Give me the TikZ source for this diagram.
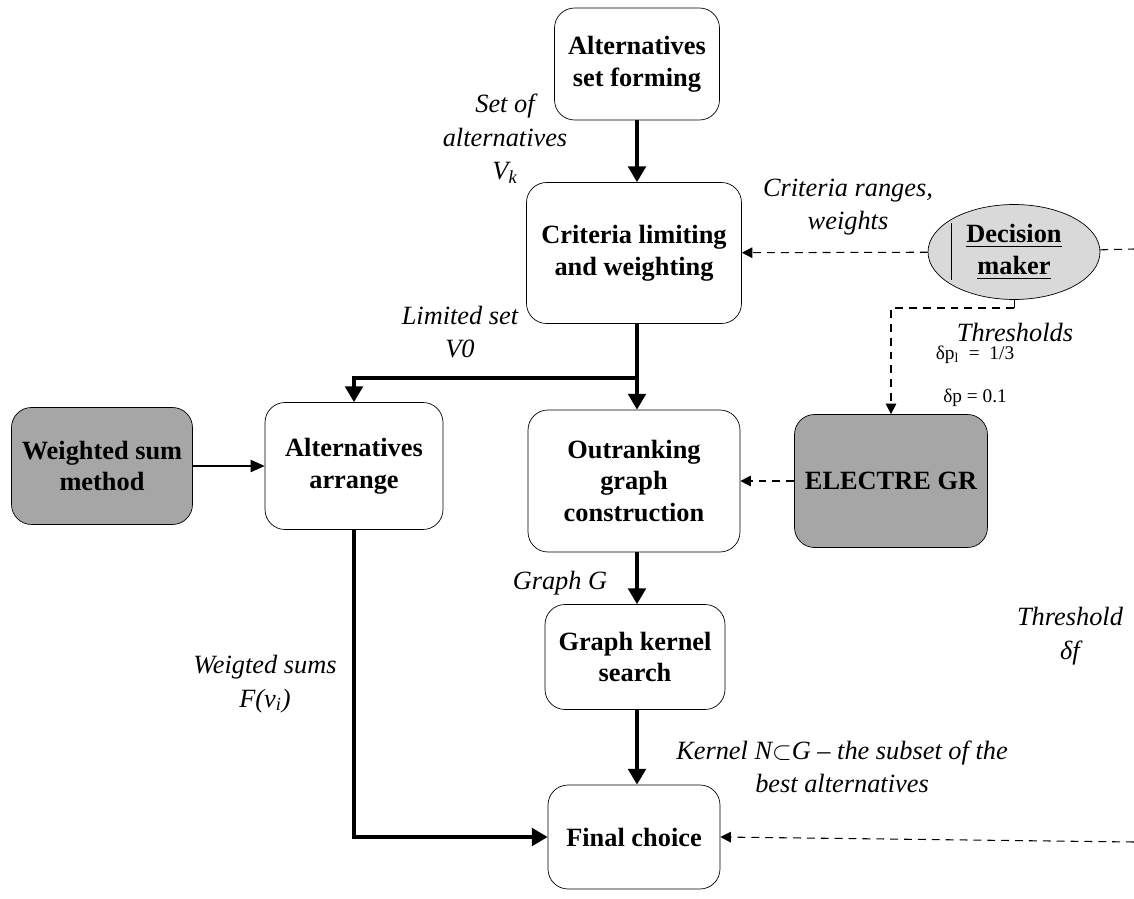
\documentclass[tikz,border=0pt]{standalone}
\usepackage{fontspec}
\setmainfont{Liberation Serif}
\usepackage{amssymb}
\usepackage{tikz}
\usetikzlibrary{arrows.meta,shapes.geometric}
\definecolor{boxgray}{HTML}{A6A6A6}
\definecolor{dmgray}{HTML}{D9D9D9}

\begin{document}
\begin{tikzpicture}[x=0.02cm,y=-0.02cm,
  box/.style={draw, rounded corners=0.4cm, align=center, inner sep=2pt,
    font=\fontsize{15}{18}\selectfont\bfseries},
  darkbox/.style={box, fill=boxgray},
  lbl/.style={align=center, font=\fontsize{15}{19}\selectfont\itshape},
  small/.style={font=\fontsize{11}{13}\selectfont},
  flow/.style={line width=2pt, -{Triangle[length=9pt,width=10pt]}},
  feed/.style={semithick, -{Triangle[length=8pt,width=7pt]}},
  dashline/.style={semithick, dash pattern=on 4.5pt off 3.4pt},
  dasharrow/.style={dashline, -{Triangle[length=6pt,width=6pt]}}
  ]
  \useasboundingbox (0,0) rectangle (1134,899);
  \node[box, minimum width=3.3cm, minimum height=2.24cm] (setform) at (637,64) {Alternatives\\set forming};
  \node[box, minimum width=4.3cm, minimum height=2.82cm] (crit) at (634,253) {Criteria limiting\\and weighting};
  \node[box, minimum width=4.24cm, minimum height=2.84cm] (outrank) at (634,481) {Outranking\\graph\\construction};
  \node[box, minimum width=3.6cm, minimum height=2.1cm] (kernel) at (635,657) {Graph kernel\\search};
  \node[box, minimum width=3.44cm, minimum height=2.08cm] (final) at (634,837) {Final choice};
  \node[box, minimum width=3.56cm, minimum height=2.54cm] (arrange) at (354,466) {Alternatives\\arrange};
  \node[darkbox, minimum width=3.62cm, minimum height=2.34cm] (wsum) at (102,466) {Weighted sum\\method};
  \node[darkbox, minimum width=3.86cm, minimum height=2.66cm] (electre) at (891,481) {ELECTRE GR};
  \node[draw, ellipse, fill=dmgray, minimum width=3.44cm, minimum height=1.76cm, align=center,
    font=\fontsize{15}{18}\selectfont\bfseries] (dm) at (1014,252) {\underline{Decision}\\\underline{maker}};
  \draw (951,223) -- (951,280);

  \coordinate (split) at (637,378);
  \coordinate (dmedge) at (1134,249);
  \coordinate (fedge) at (1134,842);
  \coordinate (dmstub) at (1014,308);

  \draw[flow] (setform.south -| 637,0) -- (crit.north -| 637,0);
  \draw[flow] (crit.south -| 637,0) -- (outrank.north -| 637,0);
  \draw[flow] (split) -| (arrange.north);
  \draw[flow] (outrank.south -| 637,0) -- (kernel.north -| 637,0);
  \draw[flow] (kernel.south -| 637,0) -- (final.north -| 637,0);
  \draw[flow] (arrange.south) |- (final.west);
  \draw[feed] (wsum) -- (arrange);
  \draw[dasharrow] (dm) -- (crit);
  \draw[dashline] (dm) -- (dmedge);
  \draw (dm.south) -- (dmstub);
  \draw[dasharrow] (dmstub) -| (electre.north);
  \draw[dasharrow] (electre) -- (outrank);
  \draw[dasharrow] (fedge) -- (final.east);

  \node[lbl] (setlbl) at (505,139) {Set of\\alternatives\\\textit{V}\textsubscript{\textit{k}}};
  \node[lbl] (critlbl) at (848,207) {Criteria ranges,\\weights};
  \node[lbl] (limlbl) at (460,332) {Limited set\\V0};
  \node[lbl] (thrlbl) at (1015,332) {Thresholds};
  \node[small] (pl) at (975,355) {δp\textsubscript{l} \ = \ 1/3};
  \node[small] (pval) at (975,398) {δp = 0.1};
  \node[lbl] (glbl) at (560,583) {Graph G};
  \node[lbl] (flbl) at (1070,636) {Threshold\\δf};
  \node[lbl] (sumlbl) at (265,684) {Weigted sums\\F(v\textsubscript{\textit{i}})};
  \node[lbl] (kerlbl) at (842,767) {Kernel N$\subset$G -- the subset of the\\best alternatives};
\end{tikzpicture}
\end{document}
